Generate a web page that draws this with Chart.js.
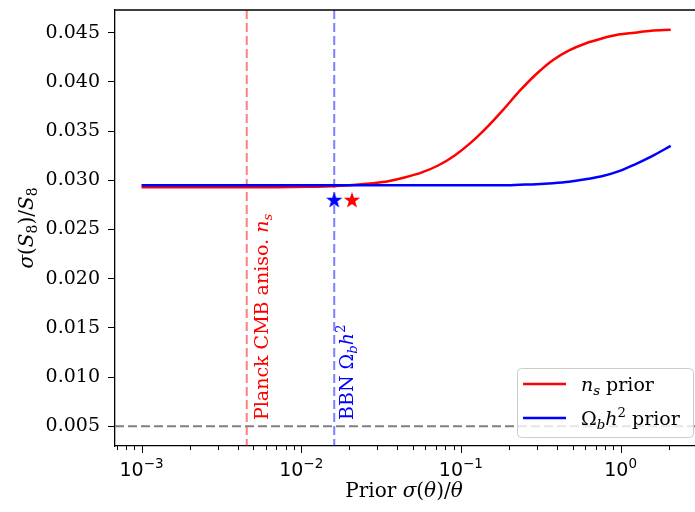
<!DOCTYPE html>
<html>
<head>
<meta charset="utf-8">
<script src="https://cdn.jsdelivr.net/npm/chart.js@4.4.1/dist/chart.umd.min.js"></script>
<style>
html, body { margin: 0; padding: 0; background: #fff; overflow: hidden; }
canvas { display: block; }
</style>
</head>
<body>
<canvas id="chart" width="705" height="512"></canvas>
<script>
// prior sigma(theta)/theta and the resulting sigma(S8)/S8
const priorFrac = [0.001, 0.002, 0.004, 0.007, 0.011, 0.014, 0.0175, 0.022, 0.028, 0.035, 0.045, 0.057, 0.072, 0.091, 0.115, 0.146, 0.185, 0.234, 0.297, 0.376, 0.476, 0.603, 0.763, 0.968, 1.225, 1.553, 2.06]
const nsSigma = [0.0293, 0.0293, 0.0293, 0.0293, 0.02933, 0.02937, 0.02944, 0.02954, 0.0297, 0.0299, 0.0303, 0.0308, 0.0315, 0.0325, 0.0338, 0.0354, 0.0372, 0.0391, 0.0408, 0.0422, 0.0432, 0.0439, 0.0444, 0.0448, 0.0450, 0.0452, 0.0453]
const ombSigma = [0.0295, 0.0295, 0.0295, 0.0295, 0.0295, 0.0295, 0.0295, 0.0295, 0.0295, 0.0295, 0.0295, 0.0295, 0.0295, 0.0295, 0.0295, 0.0295, 0.0295, 0.02955, 0.0296, 0.0297, 0.02985, 0.0301, 0.0304, 0.0309, 0.0316, 0.0324, 0.0335]

// reference priors (vertical lines) and floor (horizontal line)
const planckNs = 0.00456
const bbnOmb = 0.0161
const floorLevel = 0.005

// star markers: blue (Omega_b h^2), red (n_s)
const starOmb = { x: 0.0161, y: 0.028 }
const starNs = { x: 0.0208, y: 0.028 }

const yTicks = [0.005, 0.010, 0.015, 0.020, 0.025, 0.030, 0.035, 0.040, 0.045]
const xTickExps = [-3, -2, -1, 0]

const SERIF = '"DejaVu Serif", serif'
const SANS = '"DejaVu Sans", sans-serif'

function makeStar(color) {
	const c = document.createElement("canvas")
	c.width = 18
	c.height = 18
	const g = c.getContext("2d")
	g.fillStyle = color
	g.beginPath()
	for (let i = 0; i < 10; i++) {
		const r = i % 2 === 0 ? 8.5 : 3.4
		const a = -Math.PI / 2 + i * Math.PI / 5
		const px = 9 + r * Math.cos(a)
		const py = 9.5 + r * Math.sin(a)
		if (i === 0) g.moveTo(px, py)
		else g.lineTo(px, py)
	}
	g.closePath()
	g.fill()
	return c
}

// tiny mathtext-like renderer: parts are [text, kind]
function partFont(kind, size) {
	if (kind === "i") return `italic ${size}px ${SERIF}`
	if (kind === "sub") return `italic ${size * 0.7}px ${SERIF}`
	if (kind === "subr" || kind === "sup") return `${size * 0.7}px ${SERIF}`
	return `${size}px ${SERIF}`
}
function partShift(kind, size) {
	if (kind === "sub" || kind === "subr") return size * 0.22
	if (kind === "sup") return -size * 0.42
	return 0
}
function richWidth(ctx, parts, size) {
	let w = 0
	parts.forEach(([t, k]) => {
		ctx.font = partFont(k, size)
		w += ctx.measureText(t).width
	})
	return w
}
function drawRich(ctx, parts, x, y, size, color) {
	ctx.fillStyle = color
	ctx.textAlign = "left"
	ctx.textBaseline = "alphabetic"
	let cx = x
	parts.forEach(([t, k]) => {
		ctx.font = partFont(k, size)
		ctx.fillText(t, cx, y + partShift(k, size))
		cx += ctx.measureText(t).width
	})
}

const xLabel = [["Prior ", "r"], ["σ", "i"], ["(", "r"], ["θ", "i"], [")/", "r"], ["θ", "i"]]
const yLabel = [["σ", "i"], ["(", "r"], ["S", "i"], ["8", "subr"], [")/", "r"], ["S", "i"], ["8", "subr"]]
const planckLabel = [["Planck CMB aniso. ", "r"], ["n", "i"], ["s", "sub"]]
const bbnLabel = [["BBN ", "r"], ["Ω", "r"], ["b", "sub"], ["h", "i"], ["2", "sup"]]
const legendNs = [["n", "i"], ["s", "sub"], [" prior", "r"]]
const legendOmb = [["Ω", "r"], ["b", "sub"], ["h", "i"], ["2", "sup"], [" prior", "r"]]

const decorPlugin = {
	id: "decor",
	beforeDatasetsDraw(chart) {
		const { ctx, chartArea: a, scales: { x, y } } = chart
		ctx.save()
		ctx.lineWidth = 2
		ctx.setLineDash([9, 4])
		ctx.strokeStyle = "rgba(255, 0, 0, 0.5)"
		let px = x.getPixelForValue(planckNs)
		ctx.beginPath(); ctx.moveTo(px, a.top); ctx.lineTo(px, a.bottom); ctx.stroke()
		ctx.strokeStyle = "rgba(0, 0, 255, 0.5)"
		px = x.getPixelForValue(bbnOmb)
		ctx.beginPath(); ctx.moveTo(px, a.top); ctx.lineTo(px, a.bottom); ctx.stroke()
		ctx.strokeStyle = "#808080"
		const py = y.getPixelForValue(floorLevel)
		ctx.beginPath(); ctx.moveTo(a.left, py); ctx.lineTo(a.right, py); ctx.stroke()
		ctx.restore()
	},
	afterDraw(chart) {
		const { ctx, chartArea: a, scales: { x } } = chart
		ctx.save()
		// top spine
		ctx.strokeStyle = "#000"
		ctx.lineWidth = 1.3
		ctx.beginPath(); ctx.moveTo(a.left - 0.65, a.top); ctx.lineTo(a.right, a.top); ctx.stroke()

		// x ticks (major + minor) and labels
		ctx.lineWidth = 1
		x.ticks.forEach((t) => {
			const px = Math.round(x.getPixelForValue(t.value)) + 0.5
			const len = t.major ? 7 : 4
			ctx.beginPath(); ctx.moveTo(px, a.bottom); ctx.lineTo(px, a.bottom + len); ctx.stroke()
		})
		xTickExps.forEach((e) => {
			const px = x.getPixelForValue(Math.pow(10, e))
			ctx.font = `19px ${SANS}`
			const wb = ctx.measureText("10").width
			const sup = e < 0 ? "−" + Math.abs(e) : String(e)
			ctx.font = `13.5px ${SANS}`
			const ws = ctx.measureText(sup).width
			const x0 = px - (wb + ws) / 2
			ctx.fillStyle = "#000"
			ctx.textAlign = "left"
			ctx.textBaseline = "alphabetic"
			ctx.font = `19px ${SANS}`
			ctx.fillText("10", x0, 476)
			ctx.font = `13.5px ${SANS}`
			ctx.fillText(sup, x0 + wb, 468)
		})

		// axis labels
		const wx = richWidth(ctx, xLabel, 20)
		drawRich(ctx, xLabel, 404 - wx / 2, 497, 20, "#000")
		ctx.save()
		ctx.translate(33, 228)
		ctx.rotate(-Math.PI / 2)
		const wy = richWidth(ctx, yLabel, 20)
		drawRich(ctx, yLabel, -wy / 2, 0, 20, "#000")
		ctx.restore()

		// rotated annotations next to the vertical lines
		ctx.save()
		ctx.translate(x.getPixelForValue(planckNs) + 21, 420)
		ctx.rotate(-Math.PI / 2)
		drawRich(ctx, planckLabel, 0, 0, 19, "#ff0000")
		ctx.restore()
		ctx.save()
		ctx.translate(x.getPixelForValue(bbnOmb) + 19, 420)
		ctx.rotate(-Math.PI / 2)
		drawRich(ctx, bbnLabel, 0, 0, 19, "#0000ff")
		ctx.restore()

		// legend
		const lx = 517, ly = 368, lw = 176, lh = 69
		ctx.fillStyle = "rgba(255, 255, 255, 0.8)"
		ctx.strokeStyle = "#cccccc"
		ctx.lineWidth = 1
		ctx.beginPath()
		ctx.roundRect(lx + 0.5, ly + 0.5, lw, lh, 4)
		ctx.fill()
		ctx.stroke()
		const rows = [[legendNs, "#ff0000", 384], [legendOmb, "#0000ff", 418]]
		rows.forEach(([parts, color, ry]) => {
			ctx.strokeStyle = color
			ctx.lineWidth = 2.5
			ctx.beginPath(); ctx.moveTo(523, ry); ctx.lineTo(566, ry); ctx.stroke()
			drawRich(ctx, parts, 581, ry + 7, 19, "#000")
		})
		ctx.restore()
	},
}

const ctx = document.getElementById("chart")
new Chart(ctx, {
	type: "line",
	data: {
		datasets: [
			{
				label: "stars",
				data: [starOmb, starNs],
				showLine: false,
				pointStyle: [makeStar("#0000ff"), makeStar("#ff0000")],
				pointRadius: 9,
				order: 0,
			},
			{
				label: "Ωbh² prior",
				data: priorFrac.map((v, i) => ({ x: v, y: ombSigma[i] })),
				borderColor: "#0000ff",
				borderWidth: 2.5,
				pointRadius: 0,
				cubicInterpolationMode: "monotone",
				fill: false,
				order: 1,
			},
			{
				label: "ns prior",
				data: priorFrac.map((v, i) => ({ x: v, y: nsSigma[i] })),
				borderColor: "#ff0000",
				borderWidth: 2.5,
				pointRadius: 0,
				cubicInterpolationMode: "monotone",
				fill: false,
				order: 2,
			},
		],
	},
	options: {
		responsive: false,
		animation: false,
		events: [],
		layout: { padding: { top: 7, right: 0, left: 0, bottom: 0 } },
		plugins: { legend: { display: false }, tooltip: { enabled: false } },
		scales: {
			x: {
				type: "logarithmic",
				min: Math.pow(10, -3.166),
				max: Math.pow(10, 0.466),
				grid: { display: false },
				border: { display: true, color: "#000", width: 1.3 },
				ticks: { display: false },
				afterBuildTicks(axis) {
					const ticks = []
					for (let e = -4; e <= 1; e++) {
						for (let k = 1; k <= 9; k++) {
							const v = k * Math.pow(10, e)
							if (v >= axis.min && v <= axis.max) ticks.push({ value: v, major: k === 1 })
						}
					}
					axis.ticks = ticks
				},
				afterFit(axis) {
					axis.height = 66
					axis.paddingLeft = 0
					axis.paddingRight = 0
				},
			},
			y: {
				min: 0.003,
				max: 0.0473,
				grid: { drawOnChartArea: false, tickLength: 7, color: "#000", lineWidth: 1 },
				border: { display: true, color: "#000", width: 1.3 },
				ticks: {
					color: "#000",
					padding: 8,
					font: { family: "DejaVu Serif", size: 19 },
					callback: (v) => v.toFixed(3),
				},
				afterBuildTicks(axis) {
					axis.ticks = yTicks.map((v) => ({ value: v }))
				},
				afterFit(axis) {
					axis.width = 115
					axis.paddingTop = 0
					axis.paddingBottom = 0
				},
			},
		},
	},
	plugins: [decorPlugin],
})
</script>
</body>
</html>
